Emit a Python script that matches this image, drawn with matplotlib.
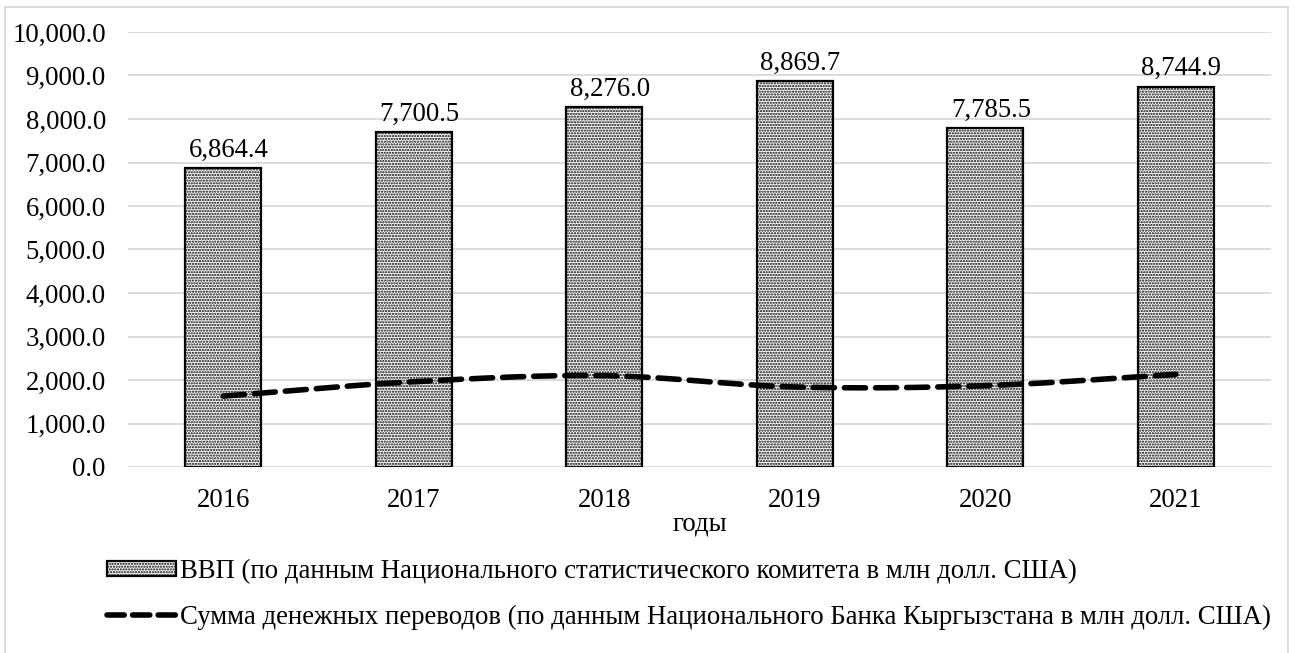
import numpy as np
import matplotlib
matplotlib.use("Agg")
from matplotlib import pyplot as plt
from matplotlib.lines import Line2D

# data
years = ["2016", "2017", "2018", "2019", "2020", "2021"]
gdp = [6864.4, 7700.5, 8276.0, 8869.7, 7785.5, 8744.9]
remit = [1630, 1960, 2100, 1840, 1870, 2130]

gdp_label = "ВВП (по данным Национального статистического комитета в млн долл. США)"
remit_label = "Сумма денежных переводов (по данным Национального Банка Кыргызстана в млн долл. США)"

plt.rcParams["font.family"] = ["Liberation Serif", "DejaVu Serif"]
plt.rcParams["hatch.linewidth"] = 1.1
fs = 19.3

fig = plt.figure(figsize=(12.95, 6.53), dpi=100)
ax = fig.add_axes([128/1295, 1-467/653, (1271-128)/1295, (467-32)/653])

x = np.arange(len(years))
bars = ax.bar(x, gdp, width=0.40, color="white", edgecolor="black",
              linewidth=1.6, hatch="......", label=gdp_label, zorder=2)
for b, v in zip(bars, gdp):
    ax.annotate(f"{v:,.1f}", (b.get_x() + b.get_width()/2, v), xytext=(4, 4),
                textcoords="offset points", ha="center", va="bottom", fontsize=fs)

# smoothed line like Excel (Catmull-Rom through the points, drawing only)
def smooth(xs, ys, n=30):
    xs = np.asarray(xs, float); ys = np.asarray(ys, float)
    px = np.concatenate([[2*xs[0]-xs[1]], xs, [2*xs[-1]-xs[-2]]])
    py = np.concatenate([[2*ys[0]-ys[1]], ys, [2*ys[-1]-ys[-2]]])
    ox, oy = [], []
    t = np.linspace(0, 1, n)
    for i in range(1, len(px)-2):
        for p, out in ((px, ox), (py, oy)):
            p0, p1, p2, p3 = p[i-1], p[i], p[i+1], p[i+2]
            out.extend(0.5*((2*p1) + (-p0+p2)*t + (2*p0-5*p1+4*p2-p3)*t**2 + (-p0+3*p1-3*p2+p3)*t**3))
    return ox, oy

sx, sy = smooth(x, remit)
ax.plot(sx, sy, color="black", linewidth=4.0, dashes=(3.8, 1.8),
        dash_capstyle="round", zorder=3)

ax.set_xlim(-0.5, len(years)-0.5)
ax.set_ylim(0, 10000)
ax.set_yticks(np.arange(0, 10001, 1000))
ax.set_yticklabels([f"{v:,.1f}" for v in np.arange(0, 10001, 1000)])
ax.set_xticks(x)
ax.set_xticklabels(years)
ax.tick_params(axis="y", length=0, pad=16, labelsize=fs)
ax.tick_params(axis="x", length=0, pad=15, labelsize=fs)
ax.grid(axis="y", color="#d9d9d9", linewidth=1.3, zorder=0)
ax.set_axisbelow(True)
for s in ax.spines.values():
    s.set_visible(False)

fig.text(700/1295, 1-530/653, "годы", ha="center", va="baseline", fontsize=fs)

handles = [bars, Line2D([0], [0], color="black", linewidth=4.0, dashes=(3.1, 1.5),
                        dash_capstyle="round")]
fig.legend(handles, [gdp_label, remit_label], loc="upper left",
           bbox_to_anchor=(96/1295, 1-548/653), frameon=False, fontsize=fs,
           handlelength=2.6, handleheight=0.5, handletextpad=0.15,
           labelspacing=0.78, borderaxespad=0)

# outer chart border
bc = "#d9d9d9"
fig.add_artist(Line2D([5/1295, 5/1295], [0, 1-7/653], color=bc, linewidth=1.3))
fig.add_artist(Line2D([5/1295, 1288/1295], [1-7/653, 1-7/653], color=bc, linewidth=1.3))
fig.add_artist(Line2D([1288/1295, 1288/1295], [0, 1-7/653], color=bc, linewidth=1.3))

fig.savefig("out.png", dpi=100)
